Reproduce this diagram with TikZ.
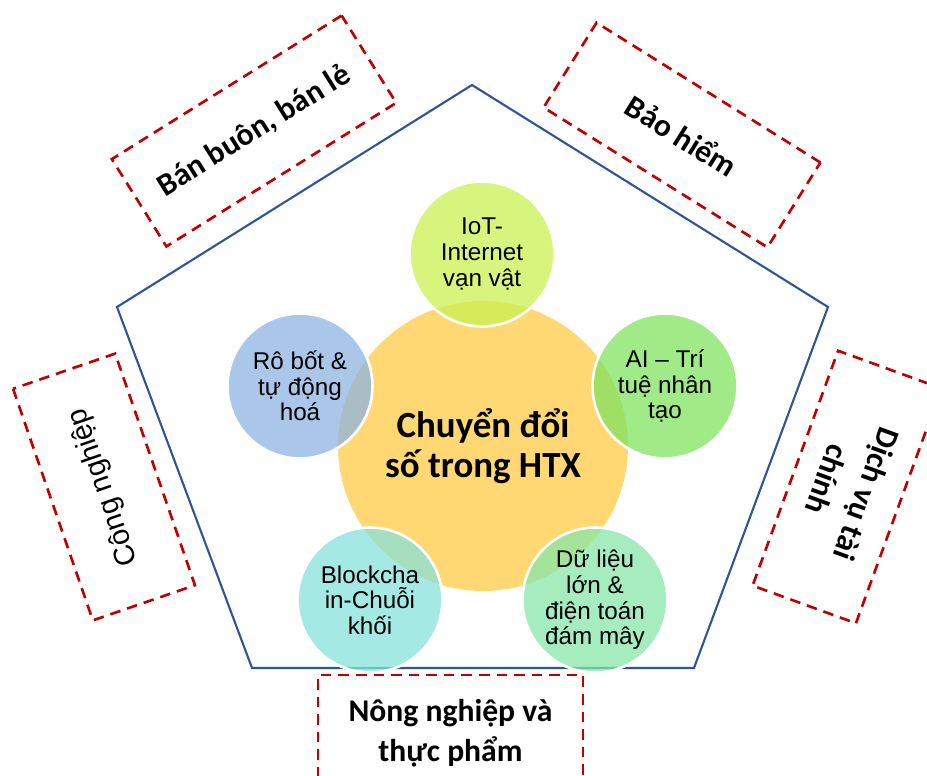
\documentclass[tikz,border=0pt]{standalone}
\usepackage{fontspec}
\setmainfont{Liberation Sans}
\newfontfamily\calibri{Carlito}
\definecolor{vienngu}{HTML}{2F5597}
\definecolor{netdut}{HTML}{C00000}
\definecolor{trungtam}{HTML}{FFD873}
\definecolor{iotmau}{HTML}{CAF252}
\definecolor{aimau}{HTML}{80E35F}
\definecolor{dulieumau}{HTML}{87E6A8}
\definecolor{chuoimau}{HTML}{87E2DB}
\definecolor{robotmau}{HTML}{8EB3E0}
\begin{document}
\begin{tikzpicture}[x=0.02cm, y=-0.02cm,
    linhvuc/.style={draw=netdut, line width=1.5pt, dash pattern=on 6pt off 4pt,
      fill=white, align=center, inner sep=0pt,
      font=\calibri\bfseries\fontsize{18}{22.7}\selectfont},
    congnghe/.style={circle, draw=white, line width=1.5pt, fill opacity=0.75,
      text opacity=1, minimum size=2.9cm, inner sep=0pt, align=center,
      font=\fontsize{13.8}{14.6}\selectfont}]
    \useasboundingbox (0,0) rectangle (927,776);
    \clip (0,0) rectangle (927,776);

    % --- ngu giac (khung ngoai) ---
    \coordinate (P1) at (472,85);
    \coordinate (P2) at (828,307);
    \coordinate (P3) at (694,668);
    \coordinate (P4) at (252,668);
    \coordinate (P5) at (117,307);
    \draw[vienngu, line width=1.2pt, line join=miter] (P1) -- (P2) -- (P3) -- (P4) -- (P5) -- cycle;

    % --- cac linh vuc (khung net dut) ---
    \node[linhvuc, minimum width=5.42cm, minimum height=2.06cm, rotate=32]
      (banbuon) at (254,131) {Bán buôn, bán lẻ};
    \node[linhvuc, minimum width=5.28cm, minimum height=2.0cm, rotate=-32]
      (baohiem) at (682,135) {Bảo hiểm};
    \node[linhvuc, minimum width=4.9cm, minimum height=2.16cm, rotate=109,
      font=\fontsize{16.5}{20}\selectfont]
      (congnghiep) at (104,487) {Công nghiệp};
    \node[linhvuc, minimum width=5.0cm, minimum height=2.2cm, rotate=-110,
      font=\calibri\bfseries\fontsize{18}{24}\selectfont]
      (taichinh) at (847,487) {Dịch vụ tài\\chính};
    \node[linhvuc, minimum width=5.3cm, minimum height=2.32cm]
      (nongnghiep) at (450.5,733) {Nông nghiệp và\\thực phẩm};

    % --- vong tron trung tam ---
    \node[circle, fill=trungtam, minimum size=5.8cm, inner sep=0pt, align=center,
      font=\calibri\bfseries\fontsize{21}{22.7}\selectfont]
      (htx) at (483,446) {Chuyển đổi\\số trong HTX};

    % --- cac cong nghe ---
    \node[congnghe, fill=iotmau] (iot) at (482,254) {IoT-\\Internet\\vạn vật};
    \node[congnghe, fill=aimau] (ai) at (665,386) {AI – Trí\\tuệ nhân\\tạo};
    \node[congnghe, fill=dulieumau] (dulieu) at (595,600) {Dữ liệu\\lớn \&\\điện toán\\đám mây};
    \node[congnghe, fill=chuoimau] (chuoi) at (370,600) {Blockcha\\in-Chuỗi\\khối};
    \node[congnghe, fill=robotmau] (robot) at (300,386) {Rô bốt \&\\tự động\\hoá};
\end{tikzpicture}
\end{document}
